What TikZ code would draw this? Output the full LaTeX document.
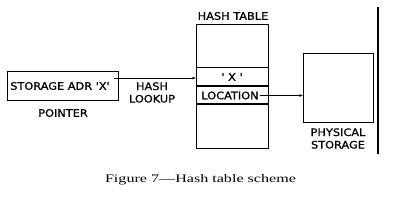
\documentclass[tikz,border=0pt]{standalone}
\usepackage{fontspec}
\setmainfont{Liberation Serif}
\newfontfamily\lab[FakeStretch=1.1,FakeBold=1]{DejaVu Sans}
\usetikzlibrary{arrows.meta}
\begin{document}
\begin{tikzpicture}[x=1pt,y=-1pt,
  lbl/.style={font=\lab\fontsize{10.3}{12.5}\selectfont, inner sep=0pt, align=center},
  box/.style={draw, line width=1.2pt},
  arr/.style={line width=0.6pt, -{Latex[length=3.5pt,width=3pt]}}]
\useasboundingbox (0,0) rectangle (407,204);
% pointer box
\node[box, minimum width=111pt, minimum height=29pt, inner sep=0pt, anchor=north west] (ptr) at (7,71) {};
\node[lbl] (ptrtxt) at (60,86) {STORAGE ADR 'X'};
\node[lbl] (pointer) at (63,113) {POINTER};
% hash table
\node[box, minimum width=72pt, minimum height=124pt, inner sep=0pt, anchor=north west] (ht) at (196,24) {};
\node[lbl] (httitle) at (233,16) {HASH TABLE};
\coordinate (r1l) at (196,67.5); \coordinate (r1r) at (268,67.5);
\coordinate (r2l) at (196,86); \coordinate (r2r) at (268,86);
\coordinate (r3l) at (196,104); \coordinate (r3r) at (268,104);
\draw[line width=1.2pt] (r1l) -- (r1r);
\draw[line width=1.2pt] (r2l) -- (r2r);
\draw[line width=1.2pt] (r3l) -- (r3r);
\node[lbl] (xrow) at (232,77) {' X '};
\node[lbl] (loc) at (230,95.5) {LOCATION};
\node[lbl] (hl) at (152,92.5) {HASH\\LOOKUP};
% physical storage
\node[box, minimum width=70pt, minimum height=69pt, inner sep=0pt, anchor=north west] (ps) at (303,53) {};
\node[lbl] (pstxt) at (338,138.5) {PHYSICAL\\STORAGE};
% vertical line
\coordinate (vt) at (378,7); \coordinate (vb) at (378,154);
\draw[line width=1.4pt] (vt) -- (vb);
% arrows
\coordinate (a1s) at (114,78); \coordinate (a1e) at (196,78);
\draw[arr] (a1s) -- (a1e);
\draw[arr] (loc.east) ++(1,0) -- (ps.west |- loc.east);
% caption
\node[inner sep=0pt] (cap) at (200.5,180) {\scalebox{1.4}[1]{\fontsize{11.5}{13}\selectfont Figure 7—Hash table scheme}};
\end{tikzpicture}
\end{document}
